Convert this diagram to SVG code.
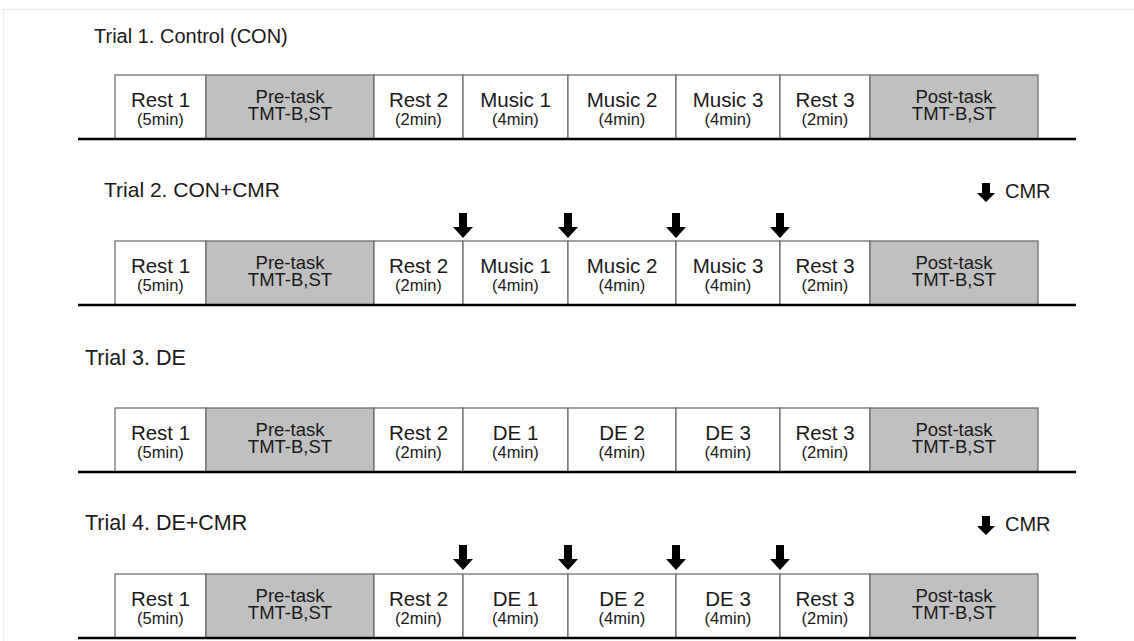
<svg xmlns="http://www.w3.org/2000/svg" width="1134" height="641" viewBox="0 0 1134 641">
<defs>
<style>
.bg{fill:#fff}
.frame{fill:none;stroke:#ececec;stroke-width:1}
.w{fill:#fff;stroke:#666;stroke-width:1.2}
.g{fill:#c0c0c0;stroke:#666;stroke-width:1.2}
.base{stroke:#000;stroke-width:2.5}
.t{font-family:"Liberation Sans",Arial,sans-serif;fill:#1a1a1a;text-anchor:middle}
.m{font-size:20.5px}
.s{font-size:16.5px}
.k{font-size:18.5px}
.title{font-family:"Liberation Sans",Arial,sans-serif;font-size:21px;fill:#1a1a1a}
.cmr{font-family:"Liberation Sans",Arial,sans-serif;font-size:20px;fill:#1a1a1a}
.arr{fill:#000}
</style>
<path id="ar" d="M-4,-25 H4 V-11 H10 L0,0 L-10,-11 H-4 Z"/>
<path id="arL" d="M-4,-19 H4 V-9 H9 L0,0 L-9,-9 H-4 Z"/>
<g id="rowA">
<rect class="w" x="115" y="0" width="91" height="64"/>
<rect class="g" x="206" y="0" width="168" height="64"/>
<rect class="w" x="374" y="0" width="89" height="64"/>
<rect class="w" x="463" y="0" width="105" height="64"/>
<rect class="w" x="568" y="0" width="108" height="64"/>
<rect class="w" x="676" y="0" width="104" height="64"/>
<rect class="w" x="780" y="0" width="90" height="64"/>
<rect class="g" x="870" y="0" width="168" height="64"/>
<line class="base" x1="78" y1="64" x2="1076" y2="64"/>
<text class="t m" x="160.5" y="32">Rest 1</text>
<text class="t s" x="160.5" y="50">(5min)</text>
<text class="t k" x="290" y="28">Pre-task</text>
<text class="t k" x="290" y="45">TMT-B,ST</text>
<text class="t m" x="418.5" y="32">Rest 2</text>
<text class="t s" x="418.5" y="50">(2min)</text>
<text class="t s" x="515.5" y="50">(4min)</text>
<text class="t s" x="622" y="50">(4min)</text>
<text class="t s" x="728" y="50">(4min)</text>
<text class="t m" x="825" y="32">Rest 3</text>
<text class="t s" x="825" y="50">(2min)</text>
<text class="t k" x="954" y="28">Post-task</text>
<text class="t k" x="954" y="45">TMT-B,ST</text>
</g>
</defs>
<rect class="bg" x="0" y="0" width="1134" height="641"/>
<rect class="frame" x="3.5" y="9.5" width="1140" height="640"/>

<g id="trial1">
<text class="title" x="94" y="43" style="font-size:20px">Trial 1. Control (CON)</text>
<g transform="translate(0,75)">
<use href="#rowA"/>
<text class="t m" x="515.5" y="32">Music 1</text>
<text class="t m" x="622" y="32">Music 2</text>
<text class="t m" x="728" y="32">Music 3</text>
</g>
</g>

<g id="trial2">
<text class="title" x="104" y="197">Trial 2. CON+CMR</text>
<g transform="translate(0,241)">
<use href="#rowA"/>
<text class="t m" x="515.5" y="32">Music 1</text>
<text class="t m" x="622" y="32">Music 2</text>
<text class="t m" x="728" y="32">Music 3</text>
</g>
</g>

<g id="trial3">
<text class="title" x="85" y="365" style="font-size:21.5px">Trial 3. DE</text>
<g transform="translate(0,408)">
<use href="#rowA"/>
<text class="t m" x="515.5" y="32">DE 1</text>
<text class="t m" x="622" y="32">DE 2</text>
<text class="t m" x="728" y="32">DE 3</text>
</g>
</g>

<g id="trial4">
<text class="title" x="85" y="530" style="font-size:21.5px">Trial 4. DE+CMR</text>
<g transform="translate(0,574)">
<use href="#rowA"/>
<text class="t m" x="515.5" y="32">DE 1</text>
<text class="t m" x="622" y="32">DE 2</text>
<text class="t m" x="728" y="32">DE 3</text>
</g>
</g>

<g id="legend2">
<use href="#arL" class="arr" x="986" y="202"/>
<text class="cmr" x="1005" y="198">CMR</text>
</g>
<g id="legend4">
<use href="#arL" class="arr" x="986" y="535"/>
<text class="cmr" x="1005" y="531">CMR</text>
</g>

<g id="connectors">
<use href="#ar" class="arr" x="463" y="238"/>
<use href="#ar" class="arr" x="568" y="238"/>
<use href="#ar" class="arr" x="676" y="238"/>
<use href="#ar" class="arr" x="780" y="238"/>
<use href="#ar" class="arr" x="463" y="570"/>
<use href="#ar" class="arr" x="568" y="570"/>
<use href="#ar" class="arr" x="676" y="570"/>
<use href="#ar" class="arr" x="780" y="570"/>
</g>
</svg>
